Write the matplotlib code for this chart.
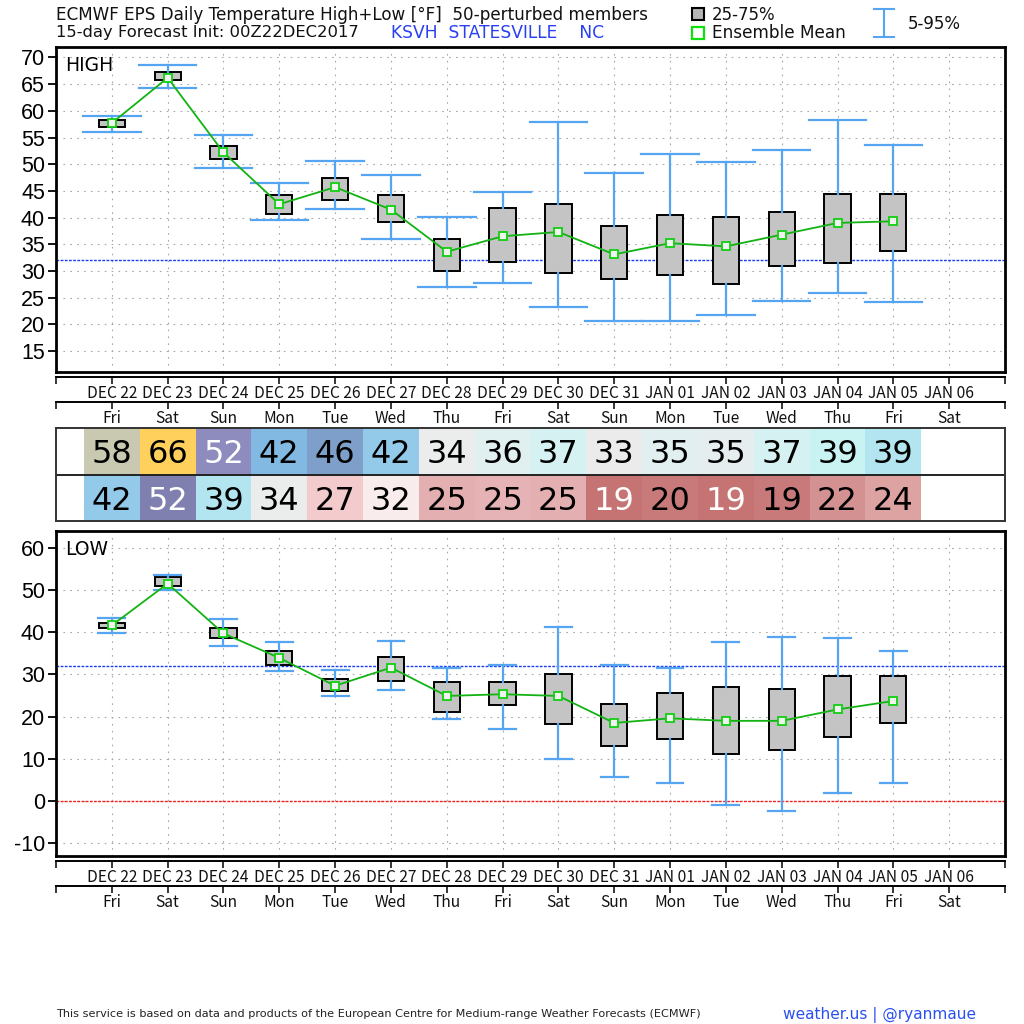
#!/usr/bin/env python3
# -*- coding: utf-8 -*-
"""ECMWF EPS daily high/low box plots for KSVH"""

import matplotlib
matplotlib.use('Agg')
import matplotlib.pyplot as plt

days = [1, 2, 3, 4, 5, 6, 7, 8, 9, 10, 11, 12, 13, 14, 15]
date_labels = ['DEC 22', 'DEC 23', 'DEC 24', 'DEC 25', 'DEC 26', 'DEC 27', 'DEC 28', 'DEC 29',
               'DEC 30', 'DEC 31', 'JAN 01', 'JAN 02', 'JAN 03', 'JAN 04', 'JAN 05', 'JAN 06']
dow_labels = ['Fri', 'Sat', 'Sun', 'Mon', 'Tue', 'Wed', 'Thu', 'Fri',
              'Sat', 'Sun', 'Mon', 'Tue', 'Wed', 'Thu', 'Fri', 'Sat']

high_p05 = [56.0, 64.2, 49.3, 39.5, 41.7, 35.9, 27.0, 27.8, 23.2, 20.7, 20.6, 21.8, 24.3, 25.9, 24.2]
high_p25 = [57.0, 65.7, 51.0, 40.7, 43.3, 39.2, 30.0, 31.7, 29.7, 28.5, 29.2, 27.5, 30.9, 31.5, 33.8]
high_p75 = [58.3, 67.2, 53.5, 44.2, 47.4, 44.2, 36.0, 41.8, 42.6, 38.5, 40.5, 40.1, 41.0, 44.5, 44.4]
high_p95 = [59.0, 68.6, 55.5, 46.4, 50.6, 48.0, 40.2, 44.7, 57.9, 48.4, 51.9, 50.4, 52.6, 58.3, 53.6]
high_mean = [57.7, 66.2, 52.2, 42.5, 45.7, 41.5, 33.6, 36.5, 37.3, 33.1, 35.2, 34.6, 36.8, 39.0, 39.3]

low_p05 = [39.8, 49.9, 36.7, 30.8, 24.8, 26.3, 19.5, 17.0, 9.9, 5.7, 4.4, -1.0, -2.4, 2.0, 4.3]
low_p25 = [41.0, 51.0, 38.5, 32.3, 26.0, 28.5, 21.2, 22.7, 18.3, 13.0, 14.6, 11.2, 12.0, 15.2, 18.5]
low_p75 = [42.2, 53.0, 41.0, 35.5, 29.0, 34.2, 28.3, 28.3, 30.0, 23.0, 25.5, 27.0, 26.5, 29.6, 29.7]
low_p95 = [43.3, 53.6, 43.1, 37.7, 31.0, 38.0, 31.5, 32.3, 41.3, 32.3, 31.5, 37.6, 38.9, 38.6, 35.5]
low_mean = [41.6, 51.5, 39.7, 33.9, 27.3, 31.6, 24.9, 25.3, 24.9, 18.5, 19.6, 19.0, 19.0, 21.7, 23.7]

table_high = [58, 66, 52, 42, 46, 42, 34, 36, 37, 33, 35, 35, 37, 39, 39]
table_low = [42, 52, 39, 34, 27, 32, 25, 25, 25, 19, 20, 19, 19, 22, 24]
high_cells = ['#C9C9B1', '#FFD05C', '#8E8CBE', '#81B9E2', '#7E9FCA', '#94CAE9', '#EBEDED', '#E0EFEF',
              '#D6F1F1', '#EBEBEB', '#E1EFF0', '#E6EDEF', '#D6F1F1', '#C9F3F3', '#B2E5F0']
low_cells = ['#94CAE9', '#8080B0', '#B2E5F0', '#EBEDED', '#F3CBCD', '#F9ECEC', '#E3AFB1', '#E5B3B5',
             '#E3AFB1', '#C67373', '#C87A7A', '#C67373', '#C87A7A', '#D49192', '#DDA3A3']
high_text = ['k', 'k', 'w', 'k', 'k', 'k', 'k', 'k', 'k', 'k', 'k', 'k', 'k', 'k', 'k']
low_text = ['k', 'w', 'k', 'k', 'k', 'k', 'k', 'k', 'k', 'w', 'k', 'w', 'k', 'k', 'k']

BLUE = '#55A5F0'
GREEN = '#12B312'
W, H = 1024, 1024
LEFT, RIGHT = 56, 1005
WIDE = 'DejaVu Sans'
NARROW = 'Noto Sans CJK JP'


def px_axes(left, top, right, bottom):
    return fig.add_axes([left / W, 1 - bottom / H, (right - left) / W, (bottom - top) / H])


def box_panel(ax, p05, p25, mean, p75, p95, capwidth, ylim, yticks, name):
    stats = [dict(whislo=a, q1=b, med=c, q3=d, whishi=e)
             for a, b, c, d, e in zip(p05, p25, mean, p75, p95)]
    ax.bxp(stats, positions=days, widths=0.47, capwidths=capwidth, showfliers=False, patch_artist=True,
           manage_ticks=False, zorder=3,
           boxprops=dict(facecolor='#C4C4C4', edgecolor='k', linewidth=1.4),
           medianprops=dict(linewidth=0),
           whiskerprops=dict(color=BLUE, linewidth=1.6),
           capprops=dict(color=BLUE, linewidth=1.6))
    ax.plot(days, mean, color=GREEN, lw=1.3, marker='s', ms=5.5, mfc='#F2F2F2', mec='#10D010', mew=1.3, zorder=5)
    ax.axhline(32, color='#1A3CF0', lw=1.0, ls=(0, (2, 1)), zorder=2)
    ax.set_xlim(0, 17)
    ax.set_ylim(*ylim)
    ax.set_xticks(range(1, 17))
    ax.set_yticks(list(yticks))
    ax.set_yticklabels([str(v) for v in yticks], family='Liberation Sans', fontsize=15.5)
    ax.grid(True, color='#A8A8A8', lw=0.8, ls=(0, (1.5, 4.7)), zorder=0)
    ax.set_axisbelow(True)
    ax.tick_params(axis='x', length=0, labelbottom=False)
    ax.tick_params(axis='y', length=6, width=1.3, pad=2)
    for s in ax.spines.values():
        s.set_linewidth(2.0)
    ax.text(0.17, ylim[1] - (ylim[1] - ylim[0]) * 0.058, name, fontsize=13.5, va='center', family=WIDE)


def date_axis(y, labels):
    a = px_axes(LEFT, y, RIGHT, y + 1)
    a.set_xlim(0, 17)
    a.set_ylim(0, 1)
    a.set_yticks([])
    for key in ['left', 'right', 'top']:
        a.spines[key].set_visible(False)
    a.spines['bottom'].set_linewidth(1.4)
    a.patch.set_visible(False)
    a.set_xticks(range(0, 18))
    a.set_xticklabels([''] + labels + [''], family=NARROW, fontsize=11.2, color='#111111')
    a.tick_params(axis='x', length=5, width=1.1, pad=1)


fig = plt.figure(figsize=(W / 100, H / 100), dpi=100)

ax_high = px_axes(LEFT, 46.5, RIGHT, 372)
box_panel(ax_high, high_p05, high_p25, high_mean, high_p75, high_p95, 1.03, (11.06, 72.06),
          range(15, 71, 5), 'HIGH')

ax_low = px_axes(LEFT, 531, RIGHT, 856)
box_panel(ax_low, low_p05, low_p25, low_mean, low_p75, low_p95, 0.48, (-13.0, 63.95),
          range(-10, 61, 10), 'LOW')
ax_low.axhline(0, color='#F02020', lw=1.0, ls=(0, (2, 1)), zorder=2)

date_axis(376, date_labels)
date_axis(401, dow_labels)
date_axis(860, date_labels)
date_axis(885, dow_labels)

ax_tab = px_axes(LEFT, 428, RIGHT, 521)
ax_tab.set_xlim(0, 17)
ax_tab.set_ylim(0, 2)
ax_tab.set_xticks([])
ax_tab.set_yticks([])
ax_tab.bar(days, 1, width=1.0, bottom=1, color=high_cells, linewidth=0)
ax_tab.bar(days, 1, width=1.0, bottom=0, color=low_cells, linewidth=0)
ax_tab.axhline(1, color='#222222', lw=1.4)
for x, hv, lv, hc, lc in zip(days, table_high, table_low, high_text, low_text):
    ax_tab.text(x, 1.5, str(hv), color=hc, ha='center', va='center_baseline', fontsize=23, family=WIDE)
    ax_tab.text(x, 0.5, str(lv), color=lc, ha='center', va='center_baseline', fontsize=23, family=WIDE)
for s in ax_tab.spines.values():
    s.set_linewidth(1.4)
    s.set_color('#333333')

# header, legend and footer in pixel coordinates
ov = fig.add_axes([0, 0, 1, 1])
ov.set_xlim(0, W)
ov.set_ylim(H, 0)
ov.axis('off')
ov.patch.set_visible(False)
ov.text(56, 15, 'ECMWF EPS Daily Temperature High+Low [°F]  50-perturbed members',
        fontsize=12.1, va='center', family=WIDE, color='#111111')
ov.text(56, 32.5, '15-day Forecast Init: 00Z22DEC2017', fontsize=11.8, va='center', family=WIDE, color='#111111')
ov.text(391, 32.5, 'KSVH  STATESVILLE    NC', fontsize=12.3, va='center', family=WIDE, color='#2A40F0')
ov.plot([698], [14], marker='s', ms=8, mfc='#B4B4B4', mec='k', mew=1.5, ls='none')
ov.plot([698], [33], marker='s', ms=8, mfc='white', mec='#10E010', mew=1.6, ls='none')
ov.text(712, 15, '25-75%', fontsize=12, va='center', family=WIDE, color='#111111')
ov.text(712, 33, 'Ensemble Mean', fontsize=12.2, va='center', family=WIDE, color='#111111')
ov.plot([884, 884], [9, 37], color=BLUE, lw=1.5)
ov.plot([874, 894], [9, 9], color=BLUE, lw=1.5)
ov.plot([874, 894], [37, 37], color=BLUE, lw=1.5)
ov.text(908, 24, '5-95%', fontsize=12, va='center', family=WIDE, color='#111111')
ov.text(56, 1014, 'This service is based on data and products of the European Centre for Medium-range Weather Forecasts (ECMWF)',
        fontsize=8.07, va='center', family=WIDE, color='#222222')
ov.text(783, 1015, 'weather.us | @ryanmaue', fontsize=11.1, va='center', family=WIDE, color='#2A50F0')

plt.savefig('out.png', dpi=100)
